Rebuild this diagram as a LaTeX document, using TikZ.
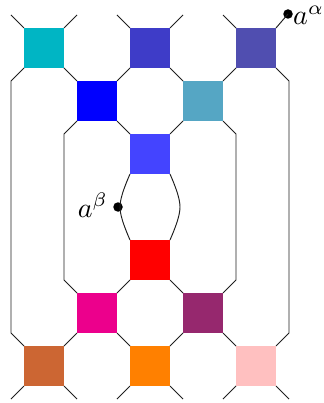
\documentclass[tikz,border=0pt]{standalone}
\definecolor{cA}{RGB}{0,181,196}
\definecolor{cB}{RGB}{62,60,200}
\definecolor{cC}{RGB}{80,78,176}
\definecolor{cD}{RGB}{0,0,255}
\definecolor{cE}{RGB}{85,166,196}
\definecolor{cF}{RGB}{68,68,255}
\definecolor{cG}{RGB}{255,0,0}
\definecolor{cH}{RGB}{236,0,140}
\definecolor{cI}{RGB}{150,40,110}
\definecolor{cJ}{RGB}{204,102,51}
\definecolor{cK}{RGB}{255,128,0}
\definecolor{cL}{RGB}{255,192,192}
\begin{document}
\begin{tikzpicture}[x=1pt,y=-1pt,
  sq/.style={minimum size=40pt,inner sep=0pt,outer sep=0pt,draw=none},
  ln/.style={line width=0.95pt,black!88},
  dotst/.style={circle,fill=black,inner sep=0pt,minimum size=9.5pt},
  lab/.style={inner sep=0pt}]
\useasboundingbox (0,0) rectangle (323,403);
% squares
\node[sq,fill=cA] (A1) at (44,48) {};
\node[sq,fill=cB] (A2) at (150,48) {};
\node[sq,fill=cC] (A3) at (256,48) {};
\node[sq,fill=cD] (B1) at (97,101) {};
\node[sq,fill=cE] (B2) at (203,101) {};
\node[sq,fill=cF] (C) at (150,154) {};
\node[sq,fill=cG] (D) at (150,260) {};
\node[sq,fill=cH] (E1) at (97,313) {};
\node[sq,fill=cI] (E2) at (203,313) {};
\node[sq,fill=cJ] (F1) at (44,366) {};
\node[sq,fill=cK] (F2) at (150,366) {};
\node[sq,fill=cL] (F3) at (256,366) {};
% free ends
\coordinate (t1) at (11,15);
\coordinate (t2) at (77,15);
\coordinate (t3) at (117,15);
\coordinate (t4) at (183,15);
\coordinate (t5) at (223,15);
\node[dotst] (alpha) at (288,14) {};
\coordinate (b1) at (11,399);
\coordinate (b2) at (77,399);
\coordinate (b3) at (117,399);
\coordinate (b4) at (183,399);
\coordinate (b5) at (223,399);
\coordinate (b6) at (289,399);
\coordinate (l1) at (11,81);
\coordinate (l2) at (11,333);
\coordinate (r1) at (289,81);
\coordinate (r2) at (289,333);
\coordinate (m1) at (64,134);
\coordinate (m2) at (64,280);
\coordinate (n1) at (236,134);
\coordinate (n2) at (236,280);
\coordinate (cl) at (120,207);
\coordinate (cr) at (180,207);
\node[dotst] (beta) at (118,207) {};
% labels
\node[lab,anchor=base west] (la) at (293,25) {\scalebox{2.8}{$a^{\alpha}$}};
\node[lab,anchor=base east] (lb) at (108,217) {\scalebox{2.8}{$a^{\beta}$}};
% top stubs
\draw[ln] (A1.north west) -- (t1);
\draw[ln] (A1.north east) -- (t2);
\draw[ln] (A2.north west) -- (t3);
\draw[ln] (A2.north east) -- (t4);
\draw[ln] (A3.north west) -- (t5);
\draw[ln] (A3.north east) -- (alpha.center);
% bottom stubs
\draw[ln] (F1.south west) -- (b1);
\draw[ln] (F1.south east) -- (b2);
\draw[ln] (F2.south west) -- (b3);
\draw[ln] (F2.south east) -- (b4);
\draw[ln] (F3.south west) -- (b5);
\draw[ln] (F3.south east) -- (b6);
% strands
\draw[ln] (A1.south west) -- (l1) -- (l2) -- (F1.north west);
\draw[ln] (A1.south east) -- (B1.north west);
\draw[ln] (A2.south west) -- (B1.north east);
\draw[ln] (A2.south east) -- (B2.north west);
\draw[ln] (A3.south west) -- (B2.north east);
\draw[ln] (A3.south east) -- (r1) -- (r2) -- (F3.north east);
\draw[ln] (B1.south west) -- (m1) -- (m2) -- (E1.north west);
\draw[ln] (B1.south east) -- (C.north west);
\draw[ln] (B2.south west) -- (C.north east);
\draw[ln] (B2.south east) -- (n1) -- (n2) -- (E2.north east);
\draw[ln] (C.south west) .. controls (123,190) and (120,200) .. (cl) .. controls (120,214) and (123,224) .. (D.north west);
\draw[ln] (C.south east) .. controls (177,190) and (180,200) .. (cr) .. controls (180,214) and (177,224) .. (D.north east);
\draw[ln] (D.south west) -- (E1.north east);
\draw[ln] (D.south east) -- (E2.north west);
\draw[ln] (E1.south west) -- (F1.north east);
\draw[ln] (E1.south east) -- (F2.north west);
\draw[ln] (E2.south west) -- (F2.north east);
\draw[ln] (E2.south east) -- (F3.north west);
\end{tikzpicture}
\end{document}
